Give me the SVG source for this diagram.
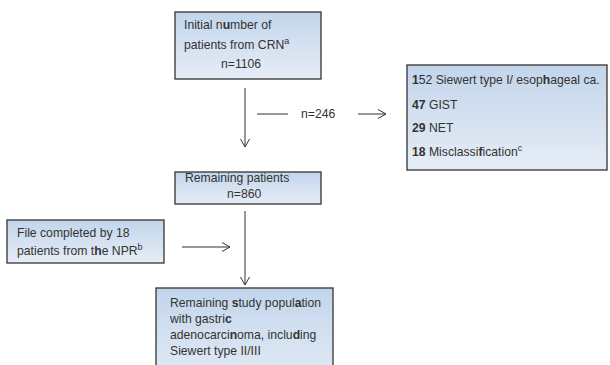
<svg xmlns="http://www.w3.org/2000/svg" width="610" height="365" viewBox="0 0 610 365">
<defs>
<linearGradient id="bg" x1="0" y1="0" x2="0" y2="1">
<stop offset="0" stop-color="#c2d5eb"/>
<stop offset="1" stop-color="#e6edf6"/>
</linearGradient>
<marker id="ah" markerUnits="userSpaceOnUse" markerWidth="12" markerHeight="12" refX="9" refY="5" orient="auto">
<path d="M1,0.5 L9,5 L1,9.5" fill="none" stroke="#333333" stroke-width="1"/>
</marker>
<style>
.box{fill:url(#bg);stroke:#333333;stroke-width:1.3}
text{font-family:"Liberation Sans",Arial,sans-serif;font-size:12.2px;fill:#333333}
.b{font-weight:bold}
.sup{font-size:9px}
.ln{stroke:#333333;stroke-width:1;fill:none}
</style>
</defs>
<rect width="610" height="365" fill="#ffffff"/>
<g id="connectors">
<line class="ln" x1="245" y1="88" x2="245" y2="147" marker-end="url(#ah)"/>
<line class="ln" x1="257" y1="114" x2="288" y2="114"/>
<text x="301" y="118">n=246</text>
<line class="ln" x1="358" y1="114" x2="386" y2="114" marker-end="url(#ah)"/>
<line class="ln" x1="245" y1="211" x2="245" y2="285" marker-end="url(#ah)"/>
<line class="ln" x1="182" y1="247" x2="230" y2="247" marker-end="url(#ah)"/>
</g>
<g id="node-initial">
<rect class="box" x="175" y="12" width="146" height="67"/>
<text x="184" y="29">Initial n<tspan class="b">u</tspan>mber of</text>
<text x="184" y="49">patients from CRN<tspan class="sup" dy="-5">a</tspan></text>
<text x="221" y="68">n=1106</text>
</g>
<g id="node-excluded">
<rect class="box" x="407" y="65" width="200" height="105"/>
<text x="412" y="84"><tspan class="b">1</tspan>52 Siewert type I/ esop<tspan class="b">h</tspan>ageal ca.</text>
<text x="412" y="109"><tspan class="b">47</tspan> GIST</text>
<text x="412" y="132"><tspan class="b">29</tspan> NET</text>
<text x="412" y="156"><tspan class="b">18</tspan> Misclassi<tspan class="b">f</tspan>ication<tspan class="sup" dy="-5">c</tspan></text>
</g>
<g id="node-remaining">
<rect class="box" x="175" y="172" width="146" height="32"/>
<text x="185" y="182">Remaining patients</text>
<text x="227" y="198">n=860</text>
</g>
<g id="node-npr">
<rect class="box" x="7" y="220" width="157" height="43"/>
<text x="17" y="237">File completed by 18</text>
<text x="17" y="255">patients from t<tspan class="b">h</tspan>e NPR<tspan class="sup" dy="-5">b</tspan></text>
</g>
<g id="node-study">
<rect class="box" x="156" y="288" width="177" height="100"/>
<text x="170" y="307">Remaining <tspan class="b">s</tspan>tudy popul<tspan class="b">a</tspan>tion</text>
<text x="170" y="323">with gastri<tspan class="b">c</tspan></text>
<text x="170" y="339">adenocarci<tspan class="b">n</tspan>oma, inclu<tspan class="b">d</tspan>ing</text>
<text x="170" y="355">Siewert type II/III</text>
</g>
</svg>
